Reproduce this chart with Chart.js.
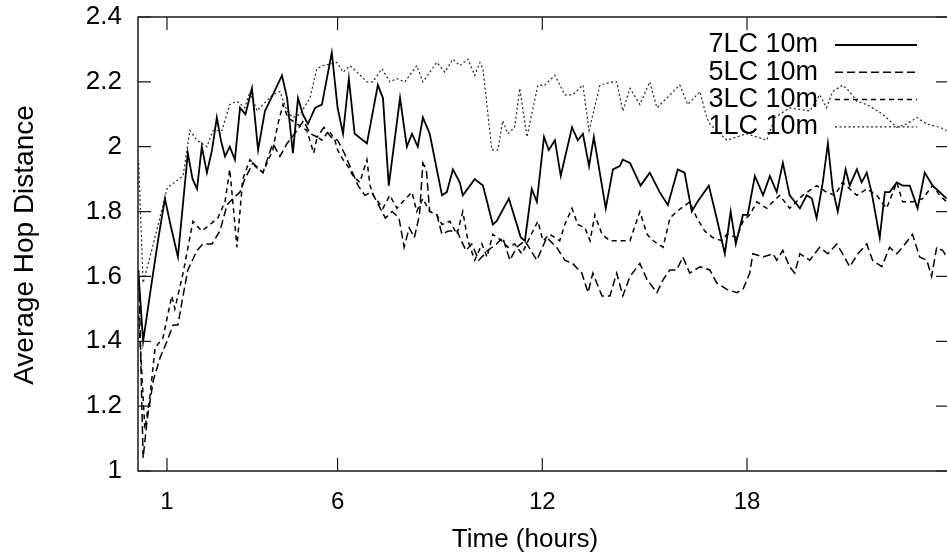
<!DOCTYPE html>
<html>
<head>
<meta charset="utf-8">
<script src="https://cdn.jsdelivr.net/npm/chart.js@4.4.0/dist/chart.umd.min.js"></script>
<style>
  html, body { margin: 0; padding: 0; background: #fff; overflow: hidden; }
  #wrap { width: 952px; height: 559px; }
</style>
</head>
<body>
<div id="wrap"><canvas id="grafico" width="952" height="559"></canvas></div>
<script>
// Dados (tempo em horas, distância média em saltos)
const rotulos = ['7LC 10m', '5LC 10m', '3LC 10m', '1LC 10m'];
const xTicks = [1, 6, 12, 18];
const yTicks = [1, 1.2, 1.4, 1.6, 1.8, 2, 2.2, 2.4];

const horas7 = [0.17,0.30,0.55,0.75,0.94,1.10,1.32,1.61,1.75,1.88,2.02,2.17,2.32,2.46,2.58,2.70,2.84,2.99,3.14,3.30,3.49,3.67,3.87,4.10,4.37,4.52,4.69,4.84,4.98,5.13,5.34,5.54,5.83,6.00,6.16,6.33,6.50,6.86,7.18,7.33,7.50,7.83,8.03,8.18,8.35,8.50,8.70,9.06,9.20,9.38,9.58,9.67,10.02,10.26,10.55,10.66,11.02,11.37,11.49,11.69,11.84,12.05,12.19,12.37,12.54,12.87,13.04,13.19,13.37,13.51,13.86,14.07,14.27,14.36,14.57,14.88,15.15,15.44,15.68,15.97,16.17,16.38,16.55,16.88,17.11,17.35,17.52,17.67,17.88,18.02,18.23,18.47,18.67,18.87,19.05,19.25,19.55,19.75,19.90,20.04,20.22,20.37,20.51,20.66,20.89,21.01,21.22,21.36,21.51,21.65,21.89,22.04,22.18,22.39,22.56,22.77,23.00,23.21,23.44,23.65,23.85];
const saltos7 = [1.60,1.40,1.58,1.72,1.84,1.76,1.66,1.98,1.90,1.87,2.00,1.92,1.99,2.09,2.02,1.97,2.00,1.96,2.12,2.10,2.18,1.99,2.11,2.16,2.22,2.15,1.98,2.15,2.10,2.07,2.12,2.13,2.29,2.12,2.04,2.21,2.04,2.01,2.19,2.15,1.88,2.15,2.00,2.04,2.00,2.09,2.04,1.85,1.86,1.93,1.89,1.85,1.90,1.88,1.76,1.77,1.84,1.72,1.71,1.87,1.83,2.03,1.99,2.02,1.91,2.06,2.02,2.04,1.94,2.03,1.81,1.93,1.94,1.96,1.95,1.88,1.92,1.86,1.82,1.93,1.92,1.80,1.83,1.88,1.78,1.67,1.80,1.70,1.79,1.79,1.91,1.85,1.91,1.86,1.95,1.85,1.81,1.85,1.84,1.78,1.89,2.01,1.87,1.80,1.93,1.88,1.93,1.89,1.92,1.86,1.72,1.86,1.86,1.89,1.88,1.88,1.81,1.92,1.88,1.86,1.84];

const horas5 = [0.17,0.30,0.42,0.60,0.80,1.00,1.18,1.32,1.47,1.61,1.88,2.05,2.32,2.55,2.76,2.93,3.14,3.28,3.52,3.81,4.10,4.31,4.52,4.81,5.00,5.20,5.40,5.60,5.80,6.00,6.20,6.40,6.60,6.80,7.00,7.20,7.40,7.60,7.80,7.95,8.10,8.25,8.40,8.50,8.60,8.70,8.91,9.06,9.24,9.50,9.76,9.93,10.14,10.40,10.66,10.84,11.05,11.25,11.49,11.84,12.13,12.42,12.66,12.89,13.16,13.34,13.48,13.75,13.98,14.18,14.36,14.57,14.86,15.07,15.36,15.54,15.74,15.94,16.12,16.32,16.62,16.91,17.11,17.41,17.70,17.88,18.08,18.17,18.47,18.76,18.87,19.05,19.25,19.40,19.55,19.84,20.13,20.37,20.63,20.80,21.01,21.25,21.51,21.68,21.95,22.18,22.39,22.56,22.85,23.06,23.27,23.41,23.56,23.74,23.85];
const saltos5 = [1.62,1.04,1.16,1.28,1.35,1.40,1.45,1.45,1.54,1.62,1.68,1.70,1.70,1.74,1.82,1.84,1.86,1.90,1.95,1.92,2.01,1.97,2.01,2.05,2.08,2.04,2.03,2.06,2.03,2.02,1.98,1.93,1.88,1.85,1.86,1.82,1.78,1.80,1.78,1.69,1.75,1.72,1.79,1.95,1.93,1.80,1.79,1.73,1.74,1.74,1.68,1.70,1.65,1.68,1.70,1.72,1.65,1.69,1.71,1.65,1.72,1.69,1.65,1.64,1.61,1.55,1.61,1.54,1.54,1.61,1.54,1.60,1.64,1.59,1.55,1.59,1.62,1.62,1.66,1.61,1.63,1.62,1.58,1.56,1.55,1.56,1.61,1.67,1.66,1.67,1.65,1.68,1.63,1.61,1.67,1.65,1.69,1.67,1.70,1.67,1.63,1.67,1.70,1.65,1.63,1.69,1.67,1.69,1.73,1.66,1.65,1.60,1.69,1.68,1.66];

const horas3 = [0.17,0.35,0.50,0.65,0.88,1.14,1.23,1.47,1.76,2.02,2.26,2.49,2.70,2.84,2.93,3.05,3.22,3.43,3.58,3.81,4.10,4.25,4.40,4.54,4.81,5.10,5.30,5.40,5.54,5.75,5.92,6.00,6.16,6.30,6.45,6.65,6.86,6.95,7.05,7.33,7.53,7.74,7.91,8.18,8.32,8.50,8.70,8.91,9.06,9.29,9.50,9.67,9.82,10.02,10.23,10.38,10.55,10.81,10.99,11.19,11.40,11.63,11.87,12.02,12.22,12.51,12.66,12.87,13.04,13.25,13.40,13.54,13.75,13.98,14.27,14.57,14.86,15.07,15.25,15.54,15.74,15.94,16.32,16.53,16.76,16.99,17.26,17.41,17.70,17.88,18.08,18.29,18.58,18.76,18.96,19.25,19.63,20.04,20.33,20.57,20.80,21.22,21.51,21.80,22.09,22.39,22.56,22.85,23.15,23.44,23.65,23.85];
const saltos3 = [1.48,1.13,1.23,1.38,1.41,1.54,1.50,1.61,1.77,1.74,1.76,1.78,1.83,1.93,1.83,1.69,1.90,1.96,1.94,1.92,1.99,2.07,2.13,2.09,2.07,2.05,1.98,2.03,2.02,2.05,2.02,1.99,1.96,1.94,1.91,1.89,1.96,1.88,1.85,1.81,1.85,1.81,1.83,1.86,1.80,1.84,1.80,1.79,1.76,1.77,1.73,1.80,1.71,1.65,1.70,1.66,1.73,1.71,1.69,1.70,1.67,1.72,1.77,1.71,1.73,1.71,1.76,1.81,1.76,1.75,1.71,1.79,1.73,1.71,1.71,1.71,1.80,1.73,1.71,1.69,1.78,1.80,1.83,1.78,1.74,1.72,1.71,1.73,1.72,1.77,1.79,1.83,1.81,1.83,1.85,1.81,1.85,1.88,1.86,1.85,1.89,1.85,1.87,1.85,1.81,1.89,1.83,1.83,1.84,1.88,1.85,1.83];

const horas1 = [0.17,0.30,0.60,1.00,1.09,1.47,1.67,1.88,2.17,2.35,2.61,2.84,3.05,3.28,3.43,3.64,3.81,4.10,4.31,4.52,4.69,4.90,5.19,5.39,5.57,5.98,6.16,6.36,6.57,6.86,7.03,7.30,7.53,7.74,7.97,8.32,8.50,8.91,9.14,9.38,9.58,9.82,10.02,10.17,10.26,10.52,10.70,10.84,10.99,11.19,11.34,11.55,11.87,12.07,12.37,12.66,12.89,13.19,13.37,13.69,14.07,14.18,14.36,14.57,14.86,15.15,15.36,15.65,16.03,16.26,16.62,16.82,16.91,17.41,17.99,18.58,18.82,19.25,19.84,20.13,20.33,20.51,20.80,21.01,21.22,21.51,21.98,22.39,22.68,22.98,23.27,23.65,23.85];
const saltos1 = [1.95,1.58,1.70,1.87,1.88,1.91,2.05,2.02,2.00,2.05,2.05,2.13,2.14,2.12,2.17,2.11,2.13,2.16,2.17,2.11,2.09,2.10,2.15,2.24,2.25,2.26,2.23,2.25,2.23,2.20,2.20,2.24,2.20,2.21,2.20,2.25,2.20,2.26,2.23,2.27,2.25,2.27,2.22,2.26,2.24,1.99,1.99,2.08,2.04,2.06,2.18,2.03,2.19,2.19,2.22,2.16,2.16,2.19,2.05,2.19,2.20,2.20,2.11,2.18,2.13,2.20,2.12,2.15,2.19,2.13,2.17,2.09,2.07,2.02,2.04,2.02,2.09,2.12,2.11,2.16,2.12,2.17,2.19,2.17,2.14,2.13,2.10,2.06,2.07,2.09,2.07,2.06,2.05];

const fonte = '"Liberation Sans", Arial, sans-serif';

// junta horas e valores em pontos {x, y}
function pontos(horas, valores) {
    const n = Math.min(horas.length, valores.length);
    const out = [];
    for (let i = 0; i < n; i++) out.push({ x: horas[i], y: valores[i] });
    return out;
}

// moldura, marcas internas (estilo gnuplot), títulos e legenda
const estiloGnuplot = {
    id: 'estiloGnuplot',
    afterDraw(chart) {
        const ctx = chart.ctx;
        const { left, right, top, bottom } = chart.chartArea;
        const sx = chart.scales.x, sy = chart.scales.y;
        ctx.save();
        ctx.strokeStyle = '#1a1a1a';
        ctx.lineWidth = 1.5;
        ctx.setLineDash([]);
        ctx.strokeRect(left, top, right - left, bottom - top);

        ctx.lineWidth = 1.2;
        ctx.beginPath();
        sx.ticks.forEach(t => {
            const px = sx.getPixelForValue(t.value);
            ctx.moveTo(px, bottom); ctx.lineTo(px, bottom - 13);
            ctx.moveTo(px, top); ctx.lineTo(px, top + 13);
        });
        sy.ticks.forEach(t => {
            const py = sy.getPixelForValue(t.value);
            ctx.moveTo(left, py); ctx.lineTo(left + 13, py);
            ctx.moveTo(right, py); ctx.lineTo(right - 13, py);
        });
        ctx.stroke();

        // títulos dos eixos
        ctx.fillStyle = '#000';
        ctx.textAlign = 'center';
        ctx.textBaseline = 'middle';
        ctx.font = '26px ' + fonte;
        ctx.fillText('Time (hours)', 525, 540);
        ctx.save();
        ctx.translate(25, 245);
        ctx.rotate(-Math.PI / 2);
        ctx.font = '28px ' + fonte;
        ctx.fillText('Average Hop Distance', 0, 0);
        ctx.restore();

        // legenda: texto à esquerda, amostra da linha à direita
        ctx.font = '27px ' + fonte;
        ctx.textAlign = 'right';
        chart.data.datasets.forEach((ds, i) => {
            const y = 45 + i * 27.3;
            ctx.fillText(ds.label, 818, y);
            ctx.beginPath();
            ctx.setLineDash(ds.borderDash || []);
            ctx.lineWidth = ds.borderWidth;
            ctx.strokeStyle = ds.borderColor;
            ctx.moveTo(835, y);
            ctx.lineTo(917, y);
            ctx.stroke();
        });
        ctx.restore();
    }
};

const ctx = document.getElementById('grafico').getContext('2d');
new Chart(ctx, {
    type: 'line',
    data: {
        datasets: [
            { label: rotulos[0], data: pontos(horas7, saltos7), borderColor: '#000', borderWidth: 1.8, borderDash: [] },
            { label: rotulos[1], data: pontos(horas5, saltos5), borderColor: '#000', borderWidth: 1.5, borderDash: [8, 4] },
            { label: rotulos[2], data: pontos(horas3, saltos3), borderColor: '#000', borderWidth: 1.5, borderDash: [5, 4] },
            { label: rotulos[3], data: pontos(horas1, saltos1), borderColor: '#222', borderWidth: 1.2, borderDash: [2, 2.5] }
        ]
    },
    options: {
        responsive: false,
        animation: false,
        devicePixelRatio: 1,
        layout: { padding: { top: 17, right: 3, bottom: 0, left: 0 } },
        elements: { point: { radius: 0 }, line: { tension: 0, fill: false } },
        plugins: { legend: { display: false }, tooltip: { enabled: false } },
        scales: {
            x: {
                type: 'linear',
                min: 0.15,
                max: 23.92,
                afterBuildTicks: s => { s.ticks = xTicks.map(v => ({ value: v })); },
                afterFit: s => { s.height = 88; s.paddingLeft = 0; s.paddingRight = 0; },
                grid: { display: false, drawTicks: false },
                border: { display: false },
                ticks: { color: '#000', padding: 17, font: { size: 24, family: fonte } }
            },
            y: {
                min: 1,
                max: 2.4,
                afterBuildTicks: s => { s.ticks = yTicks.map(v => ({ value: v })); },
                afterFit: s => { s.width = 138; s.paddingTop = 0; s.paddingBottom = 0; },
                grid: { display: false, drawTicks: false },
                border: { display: false },
                ticks: {
                    color: '#000',
                    padding: 16,
                    font: { size: 26, family: fonte },
                    callback: v => String(+v.toFixed(1))
                }
            }
        }
    },
    plugins: [estiloGnuplot]
});
</script>
</body>
</html>
